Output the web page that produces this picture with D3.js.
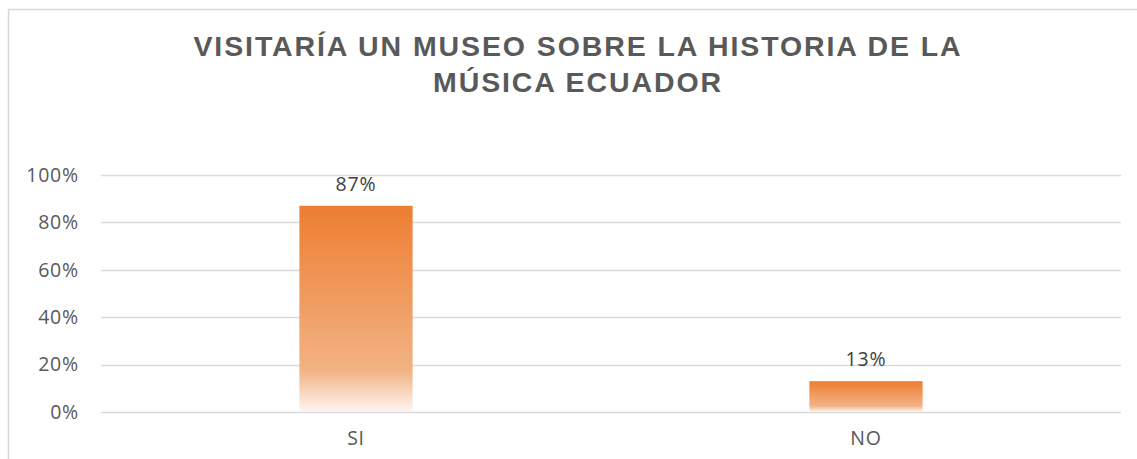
<!DOCTYPE html>
<html>
<head>
<meta charset="utf-8">
<script src="https://cdn.jsdelivr.net/npm/d3@7"></script>
<style>
  body { margin: 0; background: #fff; }
  svg { display: block; }
  .lbl { font-family: "Open Sans", sans-serif; font-size: 19.5px; letter-spacing: 0.8px; }
</style>
</head>
<body>
<svg id="chart" width="1137" height="459"></svg>
<script>
const categories = ['SI', 'NO'];
const values = [0.87, 0.13];
const yTicks = [0, 0.2, 0.4, 0.6, 0.8, 1.0];
const titleLines = ['VISITARÍA UN MUSEO SOBRE LA HISTORIA DE LA', 'MÚSICA ECUADOR'];

const svg = d3.select('#chart');
const margin = { top: 175, right: 16, bottom: 47, left: 101 };
const width = +svg.attr('width') - margin.left - margin.right;
const height = +svg.attr('height') - margin.top - margin.bottom;

// chart frame
svg.append('rect')
    .attr('x', 8.5).attr('y', 9.5)
    .attr('width', 1140).attr('height', 460)
    .attr('fill', 'none')
    .attr('stroke', '#d9d9d9')
    .attr('stroke-width', 1.5);

const defs = svg.append('defs');
const grad = defs.append('linearGradient')
    .attr('id', 'barGrad')
    .attr('x1', 0).attr('y1', 0).attr('x2', 0).attr('y2', 1);
grad.append('stop').attr('offset', '0%').attr('stop-color', '#ed7d31');
grad.append('stop').attr('offset', '80%').attr('stop-color', '#f2b384');
grad.append('stop').attr('offset', '100%').attr('stop-color', '#fdf6f2');

svg.append('text')
    .attr('text-anchor', 'middle')
    .style('font-family', '"Liberation Sans", Arial, sans-serif')
    .style('font-weight', 'bold')
    .style('font-size', '28.5px')
    .style('letter-spacing', '1.9px')
    .attr('fill', '#595959')
    .selectAll('tspan')
    .data(titleLines)
    .join('tspan')
    .attr('x', 578)
    .attr('y', (d, i) => 56 + i * 36)
    .text(d => d);

const chartArea = svg.append('g').attr('transform', `translate(${margin.left},${margin.top})`);

const xScale = d3.scaleBand()
    .domain(categories)
    .range([0, width])
    .paddingInner(0.778)
    .paddingOuter(0.389);

const yScale = d3.scaleLinear().domain([0, 1]).range([height, 0]);

// gridlines
chartArea.append('g')
    .selectAll('line')
    .data(yTicks)
    .join('line')
    .attr('x1', 0).attr('x2', width)
    .attr('y1', d => Math.round(yScale(d)) + 0.5)
    .attr('y2', d => Math.round(yScale(d)) + 0.5)
    .attr('stroke', '#d9d9d9')
    .attr('stroke-width', 1.5);

const yAxis = chartArea.append('g')
    .call(d3.axisLeft(yScale).tickValues(yTicks).tickFormat(d3.format('.0%')).tickSize(0).tickPadding(22));
yAxis.attr('font-family', null).attr('font-size', null);
yAxis.select('.domain').remove();
yAxis.selectAll('text')
    .attr('class', 'lbl')
    .attr('fill', '#595959');

chartArea.selectAll('.bar')
    .data(values)
    .join('rect')
    .attr('class', 'bar')
    .attr('x', (d, i) => xScale(categories[i]))
    .attr('y', d => yScale(d))
    .attr('width', xScale.bandwidth())
    .attr('height', d => height - yScale(d))
    .attr('fill', 'url(#barGrad)');

chartArea.selectAll('.label')
    .data(values)
    .join('text')
    .attr('class', 'label lbl')
    .attr('x', (d, i) => xScale(categories[i]) + xScale.bandwidth() / 2)
    .attr('y', d => yScale(d) - 15)
    .attr('text-anchor', 'middle')
    .attr('fill', '#404040')
    .text(d => d3.format('.0%')(d));

const xAxis = chartArea.append('g')
    .attr('transform', `translate(0,${height})`)
    .call(d3.axisBottom(xScale).tickSize(0).tickPadding(19));
xAxis.attr('font-family', null).attr('font-size', null);
xAxis.select('.domain').remove();
xAxis.selectAll('text')
    .attr('class', 'lbl')
    .attr('fill', '#595959');
</script>
</body>
</html>
